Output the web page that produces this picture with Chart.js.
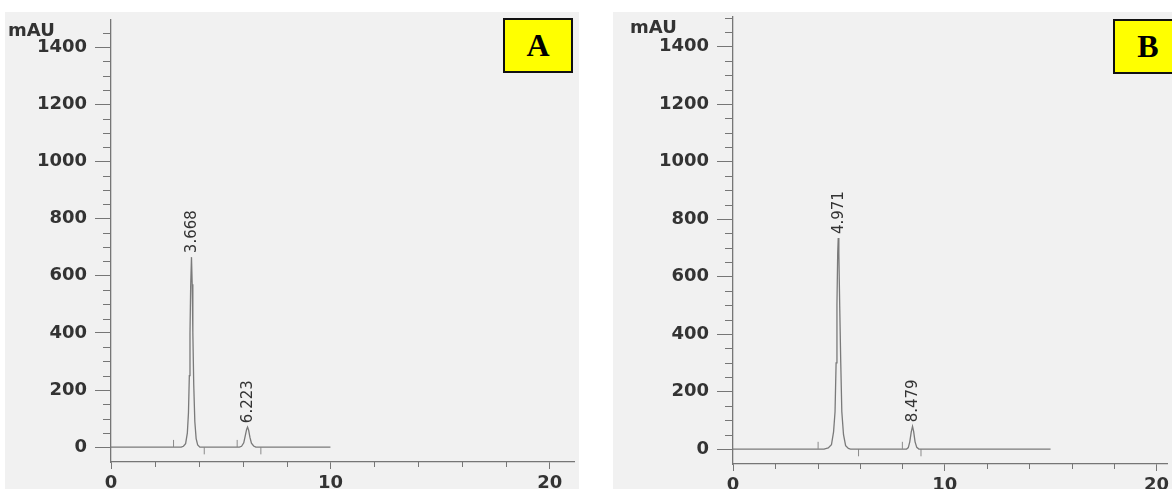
<!DOCTYPE html>
<html>
<head>
<meta charset="utf-8">
<script src="https://cdn.jsdelivr.net/npm/chart.js@4/dist/chart.umd.min.js"></script>
<style>
  body { margin: 0; background: #fff; width: 1172px; height: 489px; position: relative; overflow: hidden; }
  .panel { position: absolute; background: #f1f1f1; }
  #panelA { left: 5px; top: 12px; width: 574px; height: 477px; }
  #panelB { left: 613px; top: 12px; width: 559px; height: 477px; }
  .tag {
    position: absolute; background: #ffff00; border: 2px solid #111; box-sizing: border-box;
    font: bold 32px "Liberation Serif", serif; color: #000;
    display: flex; align-items: center; justify-content: center;
  }
  #tagA { left: 503px; top: 18px; width: 70px; height: 55px; }
  #tagB { left: 1113px; top: 19px; width: 70px; height: 55px; }
</style>
</head>
<body>
<div class="panel" id="panelA"><canvas id="chartA"></canvas></div>
<div class="panel" id="panelB"><canvas id="chartB"></canvas></div>
<div class="tag" id="tagA">A</div>
<div class="tag" id="tagB">B</div>

<script>
// ─── Cromatograma A ───────────────────────────────────────────────
const timeA = [0, 2.9, 3.2, 3.3, 3.4, 3.48, 3.53, 3.57, 3.6, 3.63, 3.668, 3.7, 3.73, 3.77, 3.82, 3.88, 3.95, 4.05,
               5.85, 5.95, 6.05, 6.12, 6.18, 6.223, 6.27, 6.33, 6.4, 6.5, 6.6, 10];
const mauA  = [0, 0, 0, 3, 12, 50, 120, 250, 400, 560, 665, 570, 400, 220, 90, 30, 8, 0,
               0, 3, 15, 40, 62, 70, 60, 35, 14, 4, 0, 0];

const peakRtA     = [3.668, 6.223];
const peakHeightA = [665, 70];
const peakLabelsA = ['3.668', '6.223'];

// marcas de integración (inicio arriba, fin abajo)
const markTimeA  = [2.85, 4.25, 5.75, 6.83];
const markLevelA = [13, -13, 13, -13];

// ─── Cromatograma B ───────────────────────────────────────────────
const timeB = [0, 4.3, 4.5, 4.65, 4.75, 4.82, 4.87, 4.91, 4.945, 4.971, 5.0, 5.04, 5.09, 5.14, 5.22, 5.32, 5.45, 5.55,
               8.2, 8.28, 8.35, 8.42, 8.479, 8.53, 8.6, 8.68, 8.78, 15];
const mauB  = [0, 0, 4, 15, 60, 130, 300, 500, 680, 734, 680, 500, 300, 130, 50, 12, 2, 0,
               0, 5, 25, 60, 79, 62, 25, 6, 0, 0];

const peakRtB     = [4.971, 8.479];
const peakHeightB = [734, 79];
const peakLabelsB = ['4.971', '8.479'];

const markTimeB  = [4.02, 5.93, 8.0, 8.88];
const markLevelB = [13, -13, 13, -13];

const Y_MIN = -52;
const Y_STEP = 200, Y_MINOR = 50;
const X_STEP = 10, X_MINOR = 2;

const AXIS  = '#767676';
const TEXT  = '#333333';
const TRACE = '#7a7a7a';

const decorations = {
  id: 'decorations',
  afterDraw(chart, args, o) {
    const { ctx, chartArea, scales: { x, y } } = chart;
    ctx.save();
    ctx.strokeStyle = AXIS;
    ctx.lineWidth = 1;

    // subdivisiones del eje Y
    for (let v = Y_MINOR; v <= y.max; v += Y_MINOR) {
      if (v % Y_STEP === 0) continue;
      const py = Math.round(y.getPixelForValue(v)) + 0.5;
      ctx.beginPath();
      ctx.moveTo(chartArea.left - 8, py);
      ctx.lineTo(chartArea.left, py);
      ctx.stroke();
    }
    // subdivisiones del eje X
    for (let v = X_MINOR; v <= x.max; v += X_MINOR) {
      if (v % X_STEP === 0) continue;
      const px = Math.round(x.getPixelForValue(v)) + 0.5;
      ctx.beginPath();
      ctx.moveTo(px, chartArea.bottom);
      ctx.lineTo(px, chartArea.bottom + 5);
      ctx.stroke();
    }

    // unidad
    ctx.fillStyle = TEXT;
    ctx.font = 'bold 18px "DejaVu Sans"';
    ctx.textAlign = 'left';
    ctx.textBaseline = 'alphabetic';
    ctx.fillText('mAU', chartArea.left - 103, chartArea.top + 16);

    // tiempos de retención
    ctx.font = '15px "DejaVu Sans"';
    ctx.textBaseline = 'middle';
    o.rt.forEach((rt, i) => {
      const px = x.getPixelForValue(rt);
      const py = y.getPixelForValue(o.heights[i]);
      ctx.save();
      ctx.translate(px + 1, py - 4);
      ctx.rotate(-Math.PI / 2);
      ctx.fillText(o.labels[i], 0, 0);
      ctx.restore();
    });
    ctx.restore();
  },
};

function makeChart(id, time, mau, markT, markY, peaks, geo) {
  const font = { family: 'DejaVu Sans', size: 18, weight: 'bold' };
  return new Chart(document.getElementById(id), {
    type: 'line',
    data: {
      datasets: [
        {
          data: time.map((t, i) => ({ x: t, y: mau[i] })),
          borderColor: TRACE,
          borderWidth: 1.3,
          pointRadius: 0,
          tension: 0,
          fill: false,
        },
        {
          type: 'scatter',
          data: markT.map((t, i) => ({ x: t, y: markY[i] })),
          pointStyle: 'line',
          rotation: 90,
          radius: 3.5,
          borderColor: '#8a8a8a',
          borderWidth: 1,
        },
      ],
    },
    options: {
      responsive: true,
      maintainAspectRatio: false,
      animation: false,
      events: [],
      layout: { padding: { top: geo.padTop, left: 0, right: 0, bottom: 0 } },
      plugins: {
        legend: { display: false },
        tooltip: { enabled: false },
        decorations: peaks,
      },
      scales: {
        x: {
          type: 'linear',
          min: 0,
          max: geo.xMax,
          ticks: { stepSize: X_STEP, includeBounds: false, autoSkip: false, maxRotation: 0, padding: 4,
                   color: TEXT, font, callback: v => String(v) },
          grid: { drawOnChartArea: false, tickLength: 7, color: AXIS },
          border: { color: AXIS, width: 1.3 },
          afterFit: s => { s.height = geo.xHeight; s.paddingLeft = 0; s.paddingRight = 0; },
        },
        y: {
          min: Y_MIN,
          max: geo.yMax,
          ticks: { stepSize: Y_STEP, includeBounds: false, padding: 8, color: TEXT, font, callback: v => String(v) },
          grid: { drawOnChartArea: false, tickLength: 16, color: AXIS },
          border: { color: AXIS, width: 1.3 },
          afterFit: s => { s.width = geo.axisWidth; s.paddingTop = 0; s.paddingBottom = 0; },
        },
      },
    },
    plugins: [decorations],
  });
}

makeChart('chartA', timeA, mauA, markTimeA, markLevelA,
  { rt: peakRtA, heights: peakHeightA, labels: peakLabelsA },
  { padTop: 8, xMax: 21.1, yMax: 1495, axisWidth: 106, xHeight: 27 });

makeChart('chartB', timeB, mauB, markTimeB, markLevelB,
  { rt: peakRtB, heights: peakHeightB, labels: peakLabelsB },
  { padTop: 0, xMax: 20.5, yMax: 1503, axisWidth: 120, xHeight: 25 });
</script>
</body>
</html>
